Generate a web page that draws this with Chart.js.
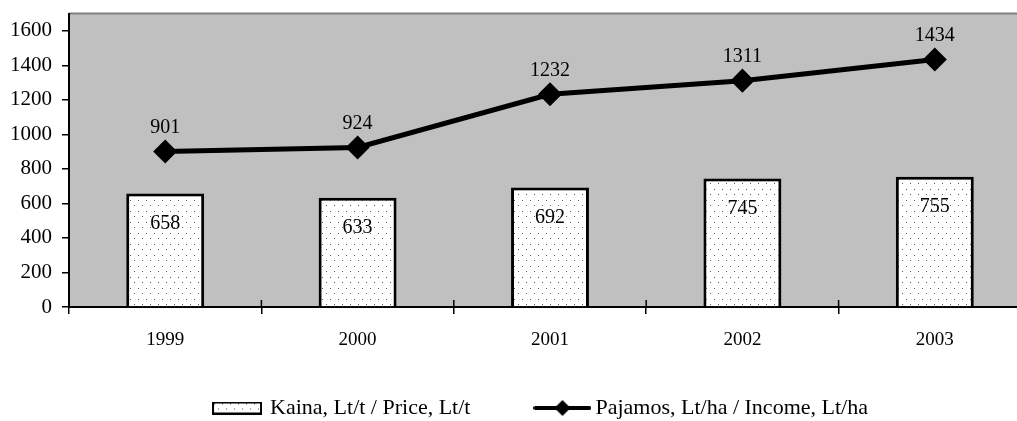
<!DOCTYPE html>
<html>
<head>
<meta charset="utf-8">
<script src="https://cdn.jsdelivr.net/npm/chart.js@4/dist/chart.umd.min.js"></script>
<style>
  html, body { margin: 0; padding: 0; background: #fff; overflow: hidden; }
  #wrap { width: 1080px; height: 421px; position: relative; }
</style>
</head>
<body>
<div id="wrap"><canvas id="myChart"></canvas></div>
<script>
const YEARS = ['1999', '2000', '2001', '2002', '2003'];
const PRICE = [658, 633, 692, 745, 755];      // Kaina, Lt/t
const INCOME = [901, 924, 1232, 1311, 1434];  // Pajamos, Lt/ha
const Y_TICKS = [0, 200, 400, 600, 800, 1000, 1200, 1400, 1600];
const PRICE_LABEL = 'Kaina, Lt/t / Price, Lt/t';
const INCOME_LABEL = 'Pajamos, Lt/ha / Income, Lt/ha';

const FONT = 'Liberation Serif';

function dotTile(){ // small white tile with grey dots, used as the bar fill
    var c = document.createElement('canvas');
    c.width = 8; c.height = 11;
    var g = c.getContext('2d');
    g.fillStyle = '#fff';
    g.fillRect(0, 0, 8, 11);
    g.fillStyle = '#5a5a5a';
    g.fillRect(2, 2, 1, 1);
    g.fillRect(6, 7, 1, 1);
    return c;
}

function barLegendIcon(){
    var c = document.createElement('canvas');
    c.width = 50; c.height = 13;
    var g = c.getContext('2d');
    g.fillStyle = g.createPattern(dotTile(), 'repeat');
    g.fillRect(0, 0, 50, 13);
    g.strokeStyle = '#000';
    g.lineWidth = 2;
    g.strokeRect(1, 1, 48, 11);
    return c;
}

function lineLegendIcon(){
    var c = document.createElement('canvas');
    c.width = 58; c.height = 18;
    var g = c.getContext('2d');
    g.strokeStyle = '#000';
    g.lineWidth = 4;
    g.lineCap = 'round';
    g.beginPath(); g.moveTo(2, 9); g.lineTo(56, 9); g.stroke();
    g.fillStyle = '#000';
    g.beginPath(); g.moveTo(29, 1); g.lineTo(37, 9); g.lineTo(29, 17); g.lineTo(21, 9); g.closePath(); g.fill();
    return c;
}

const plotBackground = {
    id: 'plotBackground',
    beforeDraw(chart){
        const {ctx, chartArea: a} = chart;
        ctx.save();
        ctx.fillStyle = '#c0c0c0';
        ctx.fillRect(a.left, a.top, a.right - a.left, a.bottom - a.top);
        ctx.strokeStyle = '#808080';
        ctx.lineWidth = 2;
        ctx.beginPath(); ctx.moveTo(a.left, a.top); ctx.lineTo(a.right, a.top); ctx.stroke();
        ctx.restore();
    },
    afterDraw(chart){ // category tick marks cross the axis line (upper half)
        const ctx = chart.ctx, xs = chart.scales.x;
        const n = YEARS.length;
        ctx.save();
        ctx.strokeStyle = '#000';
        ctx.lineWidth = 1.5;
        for(let i=0;i<=n;i++){
            let x = xs.left + i * (xs.right - xs.left) / n;
            ctx.beginPath(); ctx.moveTo(x, xs.top - 7); ctx.lineTo(x, xs.top); ctx.stroke();
        }
        ctx.restore();
    }
};

const valueLabels = {
    id: 'valueLabels',
    afterDatasetsDraw(chart){
        const ctx = chart.ctx;
        ctx.save();
        ctx.font = '20px "' + FONT + '"';
        ctx.fillStyle = '#000';
        ctx.textAlign = 'center';
        ctx.textBaseline = 'middle';
        chart.getDatasetMeta(0).data.forEach((pt, i) => ctx.fillText(INCOME[i], pt.x, pt.y - 24));
        chart.getDatasetMeta(1).data.forEach((bar, i) => ctx.fillText(PRICE[i], bar.x, bar.y + 30));
        ctx.restore();
    }
};

const legendShift = { // nudge the legend to where the original sits
    id: 'legendShift',
    afterLayout(chart){
        const l = chart.legend;
        l.left += 26; l.right += 26;
        l.top -= 22; l.bottom -= 22;
    }
};

const CTX = document.getElementById('myChart').getContext('2d');
const barFill = CTX.createPattern(dotTile(), 'repeat');
const barIcon = barLegendIcon();
const lineIcon = lineLegendIcon();

const CONFIG = {
    data: {
        labels: YEARS,
        datasets: [
            {
                type: 'line',
                label: INCOME_LABEL,
                data: INCOME,
                borderColor: '#000',
                borderWidth: 5,
                pointStyle: 'rectRot',
                pointRadius: 8.5,
                pointBackgroundColor: '#000',
                pointBorderColor: '#000',
                tension: 0
            },
            {
                type: 'bar',
                label: PRICE_LABEL,
                data: PRICE,
                backgroundColor: barFill,
                borderColor: '#000',
                borderWidth: 3,
                barPercentage: 0.405,
                categoryPercentage: 1
            }
        ]
    },
    options: {
        responsive: true,
        maintainAspectRatio: false,
        animation: false,
        layout: { padding: { top: 13, right: 49, left: 0, bottom: -30 } },
        plugins: {
            tooltip: { enabled: false },
            legend: {
                position: 'bottom',
                labels: {
                    usePointStyle: true,
                    pointStyleWidth: 44,
                    padding: 70,
                    color: '#000',
                    font: { family: FONT, size: 22 },
                    generateLabels(){
                        return [
                            { text: PRICE_LABEL, pointStyle: barIcon, fillStyle: '#fff', strokeStyle: '#000', lineWidth: 0, datasetIndex: 1, fontColor: '#000' },
                            { text: INCOME_LABEL, pointStyle: lineIcon, fillStyle: '#000', strokeStyle: '#000', lineWidth: 0, datasetIndex: 0, fontColor: '#000' }
                        ];
                    }
                }
            }
        },
        scales: {
            x: {
                offset: true,
                grid: { offset: true, drawOnChartArea: false, tickLength: 7, color: '#000', lineWidth: 1.5 },
                border: { color: '#000', width: 2 },
                ticks: { color: '#000', padding: 15, font: { family: FONT, size: 19 } },
                afterFit(scale){ scale.height = 42; }
            },
            y: {
                min: 0,
                max: 1700,
                grid: { drawOnChartArea: false, tickLength: 7, color: '#000', lineWidth: 1.5 },
                border: { color: '#000', width: 2 },
                ticks: { color: '#000', padding: 10, font: { family: FONT, size: 21 }, callback: v => String(v) },
                afterBuildTicks(scale){ scale.ticks = Y_TICKS.map(v => ({ value: v })); },
                afterFit(scale){ scale.width = 69; scale.paddingTop = 0; scale.paddingBottom = 0; }
            }
        }
    },
    plugins: [plotBackground, valueLabels, legendShift]
};

var myChart = new Chart(CTX, CONFIG);
</script>
</body>
</html>
